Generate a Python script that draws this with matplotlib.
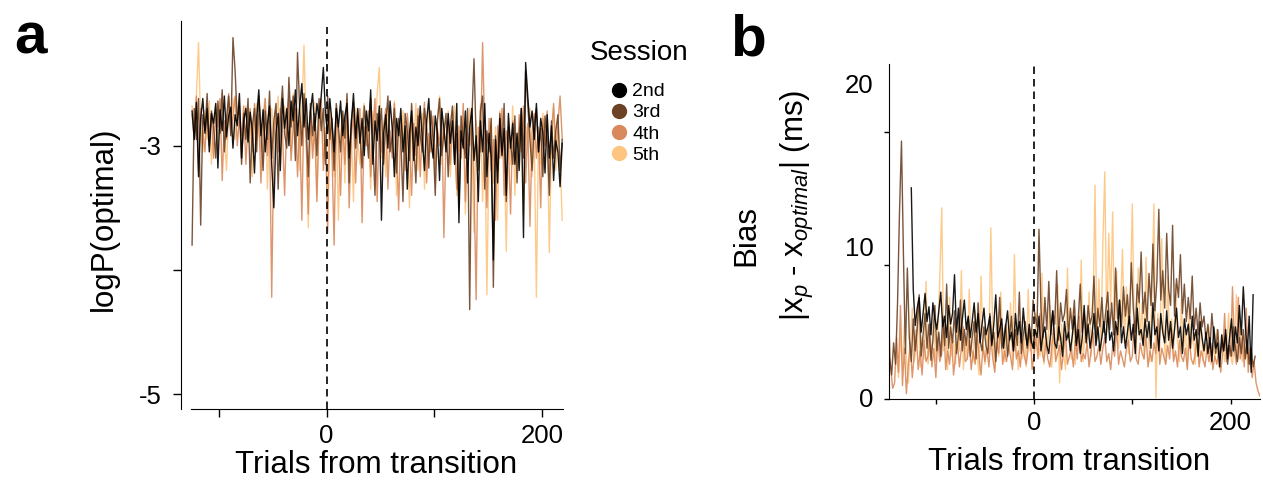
import numpy as np
import matplotlib
matplotlib.use('Agg')
import matplotlib.pyplot as plt
from matplotlib.lines import Line2D

plt.rcParams['font.family'] = ['Liberation Sans', 'DejaVu Sans']
plt.rcParams['mathtext.fontset'] = 'custom'
plt.rcParams['mathtext.rm'] = 'Liberation Sans'
plt.rcParams['mathtext.it'] = 'Liberation Sans:italic'

sessions = ['2nd', '3rd', '4th', '5th']
session_colors = ['#000000', '#6b4226', '#d98a5c', '#fdc57f']

trial_step = 2

# log-likelihood of the optimal model, every other trial starting at -125
logp_start = -125
logp_2nd = [
    -2.72, -2.95, -2.65, -3.25, -2.78, -2.62, -2.90, -2.70, -3.05, -2.74,
    -2.82, -2.66, -3.18, -2.71, -2.88, -2.60, -2.93, -2.76, -2.69, -3.02,
    -2.75, -2.84, -2.58, -3.10, -2.80, -2.70, -2.97, -2.73, -2.88, -3.22,
    -2.78, -2.55, -2.92, -2.71, -3.05, -2.83, -2.68, -3.15, -3.50, -2.90,
    -2.74, -3.20, -2.62, -2.86, -2.70, -3.00, -2.64, -2.80, -2.55, -2.92,
    -2.68, -2.50, -2.85, -2.62, -2.95, -2.72, -2.58, -2.88, -2.66, -2.78,
    -2.60, -2.37, -2.75, -2.90, -2.62, -2.81, -3.05, -2.70, -2.85, -2.64,
    -2.92, -2.76, -2.66, -3.10, -2.82, -2.58, -2.94, -2.70, -2.98, -2.78,
    -3.08, -2.72, -2.88, -2.55, -3.15, -2.80, -2.96, -2.68, -3.60, -2.90,
    -2.75, -3.02, -2.64, -2.86, -3.25, -2.78, -2.92, -2.70, -3.05, -2.84,
    -3.35, -2.90, -2.72, -3.12, -2.85, -3.00, -2.68, -2.95, -3.20, -2.80,
    -2.62, -2.95, -3.10, -2.76, -2.90, -3.28, -2.70, -2.86, -3.05, -2.74,
    -2.98, -2.80, -3.15, -2.66, -3.62, -2.88, -3.02, -2.72, -3.30, -2.85,
    -2.70, -3.12, -2.92, -3.45, -2.80, -3.05, -2.66, -3.25, -2.90, -3.10,
    -3.92, -2.95, -3.30, -2.78, -3.08, -2.86, -3.40, -2.74, -3.02, -2.82,
    -3.15, -2.90, -3.20, -2.70, -3.74, -2.33, -2.60, -2.85, -2.72, -2.95,
    -2.66, -3.05, -2.78, -2.90, -3.22, -2.75, -3.10, -2.84, -3.28, -2.96,
    -3.05, -3.33, -2.98,
]
logp_3rd = [
    -3.80, -2.70, -2.95, -2.62, -3.64, -2.75, -2.88, -2.58, -3.00, -2.72,
    -2.85, -3.10, -2.64, -2.90, -2.55, -3.05, -2.78, -2.60, -2.92, -2.13,
    -2.40, -2.80, -2.68, -3.15, -2.74, -2.95, -2.62, -3.30, -2.84, -2.70,
    -3.05, -2.60, -2.88, -3.20, -2.72, -2.95, -2.56, -3.10, -2.80, -2.66,
    -3.35, -2.78, -2.52, -2.90, -3.02, -2.45, -2.85, -2.60, -3.12, -2.25,
    -2.70, -3.00, -2.58, -2.84, -3.25, -2.66, -2.92, -2.74, -3.08, -2.62,
    -2.88, -2.70, -3.15, -2.60, -2.95, -2.78, -3.20, -2.66, -2.85, -3.05,
    -2.72, -2.94, -2.58, -3.30, -2.80, -2.65, -3.02, -2.76, -2.90, -3.18,
    -2.68, -2.86, -3.10, -2.62, -2.98, -3.40, -2.74, -2.88, -2.70, -3.15,
    -2.82, -2.60, -3.05, -2.92, -2.70, -3.22, -2.78, -2.95, -3.45, -2.74,
    -2.88, -3.12, -2.66, -2.98, -3.30, -2.76, -2.92, -3.05, -2.70, -2.86,
    -3.18, -2.72, -2.95, -3.40, -2.80, -2.62, -3.08, -2.90, -2.74, -3.25,
    -2.84, -2.68, -3.15, -2.90, -3.50, -2.76, -2.95, -3.10, -2.70, -4.32,
    -2.80, -2.30, -2.95, -3.20, -2.72, -2.60, -3.35, -2.88, -3.05, -2.78,
    -4.14, -2.92, -3.20, -2.74, -3.05, -2.66, -3.45, -2.85, -2.98, -3.15,
    -2.76, -3.30, -2.90, -2.70, -3.10, -2.40, -2.68, -2.95, -3.20, -2.82,
    -2.70, -3.05, -2.86, -3.25, -2.76, -2.95, -3.40, -2.80, -3.10, -2.88,
    -2.75, -3.20, -2.95,
]
logp_4th = [
    -2.75, -2.95, -2.60, -3.20, -2.70, -2.88, -3.05, -2.66, -2.92, -2.78,
    -3.10, -2.70, -2.85, -2.62, -3.28, -2.80, -2.95, -2.58, -2.90, -2.76,
    -2.60, -3.00, -2.78, -2.92, -2.68, -3.15, -2.82, -2.70, -3.05, -2.66,
    -2.90, -2.75, -3.30, -2.84, -2.62, -3.08, -2.80, -4.22, -2.95, -2.72,
    -3.05, -2.70, -2.88, -3.40, -2.76, -2.60, -3.12, -2.85, -2.70, -3.25,
    -2.80, -3.60, -2.66, -2.95, -3.55, -2.72, -3.10, -2.84, -3.45, -2.78,
    -2.62, -3.20, -2.90, -3.70, -2.76, -3.05, -3.80, -2.70, -2.95, -3.40,
    -2.80, -3.15, -2.66, -3.50, -2.92, -2.75, -3.30, -2.86, -2.70, -3.62,
    -2.85, -3.00, -2.72, -3.25, -2.90, -2.62, -3.45, -2.78, -3.05, -2.84,
    -2.70, -3.35, -2.88, -3.10, -2.66, -3.00, -3.52, -2.80, -2.92, -3.20,
    -2.74, -2.95, -3.40, -2.82, -3.08, -2.70, -3.25, -2.88, -2.65, -3.30,
    -2.90, -3.05, -2.76, -3.20, -2.86, -3.00, -2.70, -3.74, -2.95, -2.80,
    -3.15, -2.72, -2.98, -3.35, -2.84, -3.10, -2.66, -3.45, -2.90, -3.00,
    -2.76, -3.30, -4.24, -2.85, -3.05, -2.17, -2.90, -3.50, -2.78, -3.20,
    -2.95, -3.60, -2.84, -3.10, -2.70, -3.40, -2.88, -3.00, -3.55, -2.80,
    -2.92, -3.20, -2.75, -3.05, -2.68, -3.30, -2.82, -3.65, -2.90, -2.74,
    -3.10, -2.85, -3.50, -2.78, -3.00, -2.72, -3.25, -2.90, -2.66, -3.05,
    -2.82, -2.60, -2.95,
]
logp_5th = [
    -2.68, -2.90, -2.60, -2.17, -2.85, -3.05, -2.72, -2.95, -2.64, -3.15,
    -2.80, -2.66, -3.00, -2.74, -2.58, -2.92, -3.20, -2.70, -2.85, -2.62,
    -2.95, -2.76, -2.60, -3.10, -2.82, -2.68, -2.98, -2.72, -3.25, -2.80,
    -2.66, -2.90, -3.05, -2.74, -2.62, -3.35, -2.84, -2.70, -2.96, -2.78,
    -2.60, -3.15, -2.80, -2.68, -2.94, -2.72, -3.05, -2.58, -2.86, -2.70,
    -3.20, -2.75, -2.19, -2.90, -3.66, -2.78, -3.00, -2.65, -3.40, -2.84,
    -2.70, -3.10, -2.85, -3.50, -2.66, -2.95, -3.25, -2.78, -3.60, -2.90,
    -2.74, -3.30, -2.62, -3.05, -2.88, -3.45, -2.70, -2.96, -3.15, -2.80,
    -2.66, -3.00, -2.84, -3.35, -2.72, -2.95, -2.58, -2.37, -3.10, -2.86,
    -3.25, -2.70, -2.92, -3.05, -2.64, -3.40, -2.80, -2.98, -2.72, -3.15,
    -2.88, -3.50, -2.76, -3.00, -2.66, -3.20, -2.90, -2.74, -3.35, -2.85,
    -2.70, -3.05, -2.92, -3.30, -2.78, -2.60, -3.15, -2.86, -3.00, -2.72,
    -3.25, -2.84, -2.68, -3.40, -2.95, -3.10, -2.76, -3.55, -2.88, -2.70,
    -3.05, -3.70, -2.80, -3.20, -2.66, -3.45, -2.90, -4.20, -3.00, -2.78,
    -3.30, -2.85, -3.60, -2.72, -3.10, -2.95, -3.85, -2.80, -3.15, -2.68,
    -3.40, -2.90, -3.05, -2.76, -3.55, -2.84, -3.00, -2.70, -3.25, -2.92,
    -4.22, -2.88, -3.15, -2.74, -3.00, -2.82, -3.86, -2.95, -2.70, -3.20,
    -2.85, -3.10, -3.60,
]

# |x_p - x_optimal| in ms, every other trial; each session has its own first trial
bias_2nd_start = -125
bias_2nd = [
    15.8, 8.2, 5.5, 6.8, 7.6, 5.0, 6.4, 7.9, 5.8, 6.9,
    4.8, 7.2, 6.0, 5.2, 6.6, 8.0, 5.4, 6.2, 4.6, 7.0,
    5.6, 6.4, 9.3, 5.0, 6.8, 4.4, 6.0, 7.4, 5.2, 6.2,
    4.6, 5.8, 7.2, 5.0, 6.4, 4.2, 5.6, 6.8, 4.8, 5.4,
    6.2, 4.0, 5.6, 7.8, 4.6, 5.2, 6.0, 3.8, 5.4, 6.6,
    4.4, 5.0, 3.6, 6.4, 4.8, 5.8, 4.2, 6.8, 5.0, 4.0,
    5.6, 4.4, 3.8, 5.2, 4.6, 6.2, 3.6, 4.8, 5.4, 4.0,
    3.4, 5.0, 6.6, 4.2, 3.8, 5.4, 4.6, 3.2, 5.8, 4.4,
    5.0, 3.6, 4.8, 6.2, 4.0, 5.2, 3.4, 4.6, 7.0, 4.2,
    5.6, 3.8, 4.8, 6.4, 4.0, 5.4, 3.6, 4.6, 5.8, 4.2,
    6.6, 4.4, 5.0, 3.6, 5.8, 4.8, 7.4, 4.2, 5.4, 3.8,
    5.0, 6.2, 4.4, 5.6, 3.4, 6.8, 4.8, 5.2, 4.0, 6.0,
    4.6, 5.8, 3.8, 7.2, 4.8, 5.4, 3.6, 6.4, 5.0, 4.2,
    6.6, 4.4, 5.8, 3.8, 5.2, 6.8, 4.6, 5.4, 3.4, 6.0,
    4.8, 5.6, 3.8, 6.2, 4.4, 5.2, 3.2, 5.8, 4.6, 3.6,
    5.0, 3.4, 4.6, 2.8, 5.4, 3.8, 4.2, 2.4, 4.8, 3.6,
    5.2, 3.0, 4.6, 6.0, 3.6, 5.4, 4.2, 7.0, 4.8, 8.4,
    5.6, 3.4, 6.2, 2.0, 7.8,
]
bias_3rd_start = -147
bias_3rd = [
    3.0, 1.8, 4.2, 2.6, 7.2, 14.0, 19.3, 10.8, 3.4, 9.8,
    4.6, 2.8, 6.0, 3.6, 5.2, 7.8, 3.2, 4.8, 6.4, 3.8,
    5.6, 2.9, 4.4, 7.0, 3.6, 5.0, 3.2, 6.2, 4.0, 8.6,
    3.8, 5.4, 4.2, 6.6, 3.4, 4.8, 7.4, 3.6, 5.2, 4.0,
    6.0, 3.2, 4.6, 5.8, 3.0, 7.2, 4.4, 3.6, 5.4, 4.0,
    3.4, 6.4, 4.2, 5.0, 2.8, 4.8, 7.6, 3.8, 4.4, 5.6,
    3.2, 4.6, 6.2, 3.6, 5.2, 4.0, 8.0, 3.4, 4.8, 5.8,
    3.8, 5.0, 4.2, 7.4, 6.2, 5.4, 12.7, 6.8, 4.6, 7.6,
    5.2, 8.8, 4.8, 6.6, 5.6, 9.6, 4.4, 7.2, 5.8, 6.4,
    8.2, 4.6, 6.8, 5.2, 7.4, 4.2, 6.0, 8.6, 5.0, 6.4,
    4.8, 7.0, 5.6, 6.2, 9.2, 4.6, 6.8, 5.4, 7.6, 5.0,
    6.6, 8.0, 5.2, 7.2, 4.8, 9.8, 6.0, 7.4, 5.4, 8.4,
    6.2, 7.8, 5.6, 10.2, 6.8, 5.0, 8.6, 7.2, 11.0, 6.4,
    8.0, 5.8, 9.4, 7.0, 11.6, 6.6, 8.8, 14.2, 7.4, 9.6,
    6.8, 12.4, 8.2, 7.0, 13.0, 6.2, 9.0, 7.6, 10.8, 6.4,
    8.6, 5.8, 7.6, 6.0, 9.2, 5.2, 6.8, 4.8, 7.2, 5.4,
    6.2, 4.4, 5.6, 3.8, 6.4, 4.6, 3.4, 5.2, 3.0, 4.2,
    3.6, 4.8, 2.6, 4.0, 3.2, 5.4, 3.8, 2.8, 4.6, 3.4,
    5.2, 3.0, 4.4, 2.6, 3.8, 2.4, 3.2,
]
bias_4th_start = -148
bias_4th = [
    5.8, 2.4, 0.8, 1.2, 4.6, 2.0, 7.0, 1.0, 3.8, 0.4,
    2.6, 4.2, 1.6, 3.4, 5.2, 2.2, 3.6, 1.8, 4.4, 2.8,
    3.2, 5.0, 2.4, 3.8, 1.6, 4.6, 2.8, 3.4, 6.0, 2.2,
    3.6, 2.6, 4.8, 1.8, 3.2, 4.2, 2.4, 3.8, 5.4, 2.8,
    3.0, 4.4, 2.2, 3.6, 2.6, 5.0, 3.2, 1.8, 4.0, 2.8,
    3.8, 2.4, 4.6, 3.0, 2.0, 4.2, 3.4, 5.6, 2.6, 3.6,
    2.8, 4.0, 3.2, 2.2, 4.8, 3.0, 3.6, 2.4, 4.4, 3.2,
    2.6, 3.8, 5.2, 2.2, 3.4, 4.6, 3.0, 6.4, 3.6, 2.8,
    4.2, 3.0, 2.4, 3.8, 5.6, 2.8, 3.4, 4.0, 2.2, 3.6,
    4.8, 2.6, 3.2, 3.8, 2.4, 4.4, 3.0, 6.2, 2.8, 3.4,
    3.0, 4.2, 2.4, 3.6, 5.0, 2.8, 3.2, 4.0, 2.6, 3.8,
    4.6, 2.8, 3.4, 2.2, 4.0, 3.2, 5.4, 2.6, 3.6, 3.0,
    2.4, 3.8, 4.4, 2.8, 3.2, 5.8, 3.0, 2.6, 4.2, 3.4,
    3.0, 4.8, 2.4, 3.6, 2.8, 4.2, 3.4, 6.0, 2.6, 3.8,
    3.2, 2.6, 4.0, 3.0, 5.2, 2.8, 3.6, 2.4, 4.4, 3.2,
    2.8, 3.8, 2.2, 4.6, 3.0, 2.6, 3.4, 5.0, 2.4, 3.6,
    3.0, 2.4, 3.8, 2.8, 4.2, 2.2, 3.2, 2.6, 3.6, 2.0,
    3.4, 6.4, 2.8, 4.0, 3.2, 8.4, 3.6, 2.6, 7.6, 3.0,
    4.6, 2.4, 6.8, 2.0, 3.8, 1.6, 2.8, 1.2, 0.6, 0.2,
]
bias_5th_start = -140
bias_5th = [
    3.2, 1.6, 4.8, 2.4, 5.6, 3.0, 1.2, 4.2, 6.8, 2.8,
    3.8, 7.4, 2.4, 4.6, 3.0, 8.8, 2.6, 4.2, 3.4, 6.0,
    2.8, 4.8, 9.0, 14.3, 3.6, 5.4, 2.2, 7.6, 3.2, 4.4,
    2.6, 5.8, 3.6, 9.6, 2.2, 4.6, 3.0, 8.2, 4.0, 2.8,
    6.6, 3.4, 1.8, 9.2, 4.2, 2.6, 5.0, 3.6, 12.8, 4.4,
    2.4, 6.2, 3.2, 8.0, 4.6, 2.8, 5.4, 3.4, 7.2, 2.6,
    10.8, 3.8, 2.2, 6.0, 3.0, 4.8, 2.4, 8.2, 3.6, 5.0,
    2.8, 6.4, 4.0, 3.2, 9.4, 2.6, 5.2, 3.8, 7.0, 2.4,
    4.6, 3.0, 8.6, 1.2, 5.6, 3.4, 2.2, 9.8, 4.2, 3.0,
    6.8, 2.6, 4.8, 3.6, 10.4, 2.8, 5.4, 4.0, 8.0, 3.2,
    6.2, 16.0, 4.4, 9.0, 3.6, 11.6, 17.0, 5.0, 12.4, 7.0,
    14.0, 4.8, 9.6, 3.8, 6.8, 11.2, 4.2, 8.4, 3.4, 7.6,
    14.6, 5.2, 3.6, 9.8, 4.4, 7.2, 3.0, 10.6, 5.6, 2.8,
    8.0, 14.6, 0.1, 6.4, 3.6, 12.0, 4.8, 2.6, 9.2, 3.8,
    6.0, 3.2, 8.6, 4.4, 2.8, 7.4, 3.6, 5.2, 2.4, 6.6,
    3.8, 5.0, 2.6, 4.6, 3.2, 6.0, 2.8, 4.2, 3.4, 5.4,
    2.6, 4.0, 3.0, 5.2, 2.4, 3.6, 4.8, 2.8, 3.8, 6.4,
    3.2, 2.6, 4.4, 7.8, 3.0, 5.6, 2.8, 4.0, 3.4, 2.6,
    3.6,
]

logp_series = [logp_2nd, logp_3rd, logp_4th, logp_5th]
bias_series = [bias_2nd, bias_3rd, bias_4th, bias_5th]
bias_starts = [bias_2nd_start, bias_3rd_start, bias_4th_start, bias_5th_start]

W, H = 1263, 493
fig = plt.figure(figsize=(W / 100, H / 100), dpi=100)


def px_axes(x0, y0, x1, y1):
    return fig.add_axes([x0 / W, 1 - y1 / H, (x1 - x0) / W, (y1 - y0) / H])


def trials(start, vals):
    return start + trial_step * np.arange(len(vals))


tick_fs = 18.5
label_fs = 22.5

# ---- a: logP(optimal)
ax_a = px_axes(191, 21.5, 563.3, 409)
for vals, c in reversed(list(zip(logp_series, session_colors))):
    ax_a.plot(trials(logp_start, vals), vals, color=c, lw=1.0, alpha=0.9)
ax_a.axvline(0, ymax=0.986, color='k', lw=1.2, dashes=(4.5, 3))
ax_a.set_xlim(-126, 220)
ax_a.set_ylim(-5.12, -2.0)
ax_a.set_xticks([-100, 0, 100, 200], ['', '0', '', '200'])
ax_a.set_yticks([-5, -4, -3], ['-5', '', '-3'])
ax_a.spines[['top', 'right']].set_visible(False)
ax_a.spines['left'].set_position(('outward', 7.2))
ax_a.tick_params(length=5.8, width=1, labelsize=tick_fs)
ax_a.tick_params(axis='y', pad=8)
ax_a.tick_params(axis='x', pad=5)

fig.text(103.5 / W, 1 - 219 / H, 'logP(optimal)', rotation=90,
         ha='center', va='center', fontsize=22.5)
fig.text(376 / W, 1 - 465 / H, 'Trials from transition',
         ha='center', va='center', fontsize=label_fs)

# ---- b: bias
ax_b = px_axes(888.7, 64, 1260, 399)
for vals, start, c in reversed(list(zip(bias_series, bias_starts, session_colors))):
    ax_b.plot(trials(start, vals), vals, color=c, lw=1.0, alpha=0.9)
ax_b.axvline(0, color='k', lw=1.2, dashes=(4.5, 3))
ax_b.set_xlim(-148, 230)
ax_b.set_ylim(0, 25.07)
ax_b.set_xticks([-100, 0, 100, 200], ['', '0', '', '200'])
ax_b.set_yticks([0, 10, 20], ['', '', ''])
ax_b.spines[['top', 'right']].set_visible(False)
ax_b.tick_params(length=3.6, width=1, labelsize=tick_fs)
ax_b.tick_params(axis='x', pad=5)

# y tick labels sit a little above their ticks
ytick_text = {'0': -0.1, '10': 11.25, '20': 23.4}
for lab, yv in ytick_text.items():
    ax_b.text(-0.04, yv, lab, transform=ax_b.get_yaxis_transform(),
              ha='right', va='center', fontsize=tick_fs)

fig.text(746 / W, 1 - 236 / H, 'Bias', rotation=90,
         ha='center', va='center', fontsize=label_fs)
fig.text(797 / W, 1 - 205 / H,
         r'$|\mathrm{x}_{\mathit{p}}$ - $\mathrm{x}_{\mathit{optimal}}|$ (ms)',
         rotation=90, ha='center', va='center', fontsize=label_fs)
fig.text(1069 / W, 1 - 462 / H, 'Trials from transition',
         ha='center', va='center', fontsize=label_fs)

# ---- panel letters and legend
fig.text(30 / W, 1 - 38 / H, 'a', fontsize=42, fontweight='bold',
         ha='center', va='center')
fig.text(748 / W, 1 - 40 / H, 'b', fontsize=42, fontweight='bold',
         ha='center', va='center')

fig.text(639 / W, 1 - 53 / H, 'Session', ha='center', va='center', fontsize=20)
handles = [Line2D([], [], ls='none', marker='o', markersize=10,
                  markerfacecolor=c, markeredgecolor=c) for c in session_colors]
fig.legend(handles, sessions, loc='upper center',
           bbox_to_anchor=(638 / W, 1 - 73 / H), frameon=False,
           fontsize=14, handlelength=0.8, handletextpad=0.3,
           labelspacing=0.18, borderpad=0)

fig.savefig('out.png', dpi=100)
